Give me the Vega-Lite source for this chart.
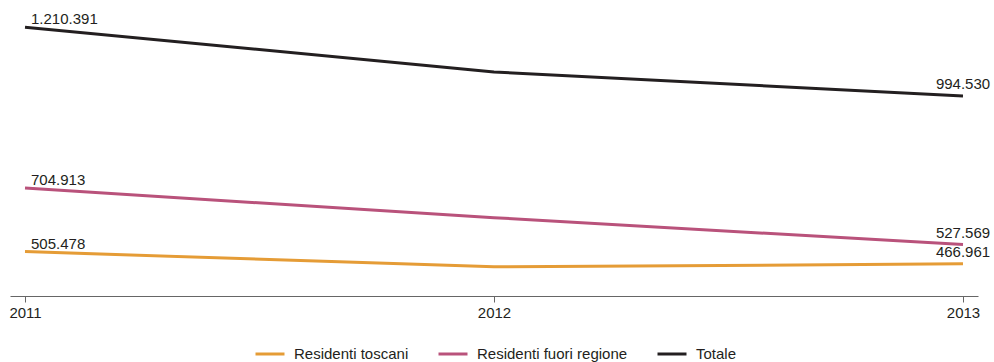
{
  "$schema": "https://vega.github.io/schema/vega-lite/v6.json",
  "width": 968,
  "height": 291,
  "autosize": {"type": "none"},
  "padding": {"left": 10, "top": 5, "right": 16, "bottom": 66},
  "background": "white",
  "config": {
    "view": {"stroke": null},
    "font": "Liberation Sans",
    "locale": {
      "number": {"decimal": ",", "thousands": ".", "grouping": [3], "currency": ["€", ""]}
    }
  },
  "data": {
    "values": [
      {"anno": "2011", "serie": "Residenti toscani", "valore": 505478},
      {"anno": "2012", "serie": "Residenti toscani", "valore": 457500},
      {"anno": "2013", "serie": "Residenti toscani", "valore": 466961},
      {"anno": "2011", "serie": "Residenti fuori regione", "valore": 704913},
      {"anno": "2012", "serie": "Residenti fuori regione", "valore": 612000},
      {"anno": "2013", "serie": "Residenti fuori regione", "valore": 527569},
      {"anno": "2011", "serie": "Totale", "valore": 1210391},
      {"anno": "2012", "serie": "Totale", "valore": 1069500},
      {"anno": "2013", "serie": "Totale", "valore": 994530}
    ]
  },
  "encoding": {
    "x": {
      "field": "anno",
      "type": "ordinal",
      "scale": {"type": "point", "padding": 0.032},
      "axis": {
        "title": null,
        "labelAngle": 0,
        "labelFontSize": 15,
        "labelColor": "#231F20",
        "labelPadding": 3,
        "domainColor": "#666666",
        "domainWidth": 1,
        "tickColor": "#666666",
        "tickSize": 6,
        "grid": false
      }
    },
    "y": {
      "field": "valore",
      "type": "quantitative",
      "scale": {"domain": [366000, 1280000], "zero": false, "nice": false},
      "axis": null
    }
  },
  "layer": [
    {
      "mark": {"type": "line", "strokeWidth": 3, "interpolate": "linear", "strokeJoin": "round"},
      "encoding": {
        "color": {
          "field": "serie",
          "type": "nominal",
          "sort": ["Residenti toscani", "Residenti fuori regione", "Totale"],
          "scale": {
            "domain": ["Residenti toscani", "Residenti fuori regione", "Totale"],
            "range": ["#E59C36", "#B9527B", "#231F20"]
          },
          "legend": {
            "title": null,
            "orient": "none",
            "legendX": 244,
            "legendY": 333,
            "direction": "horizontal",
            "symbolType": "stroke",
            "symbolSize": 841,
            "symbolStrokeWidth": 3,
            "labelFontSize": 15,
            "labelColor": "#231F20",
            "labelOffset": 8,
            "columnPadding": 23
          }
        }
      }
    },
    {
      "transform": [{"filter": "datum.anno == '2011'"}],
      "mark": {"type": "text", "align": "left", "baseline": "alphabetic", "dx": 6, "dy": -3, "fontSize": 15, "color": "#231F20"},
      "encoding": {"text": {"field": "valore", "type": "quantitative", "format": ",.0f"}}
    },
    {
      "transform": [{"filter": "datum.anno == '2013'"}],
      "mark": {"type": "text", "align": "center", "baseline": "alphabetic", "dy": -7, "fontSize": 15, "color": "#231F20"},
      "encoding": {"text": {"field": "valore", "type": "quantitative", "format": ",.0f"}}
    }
  ]
}
